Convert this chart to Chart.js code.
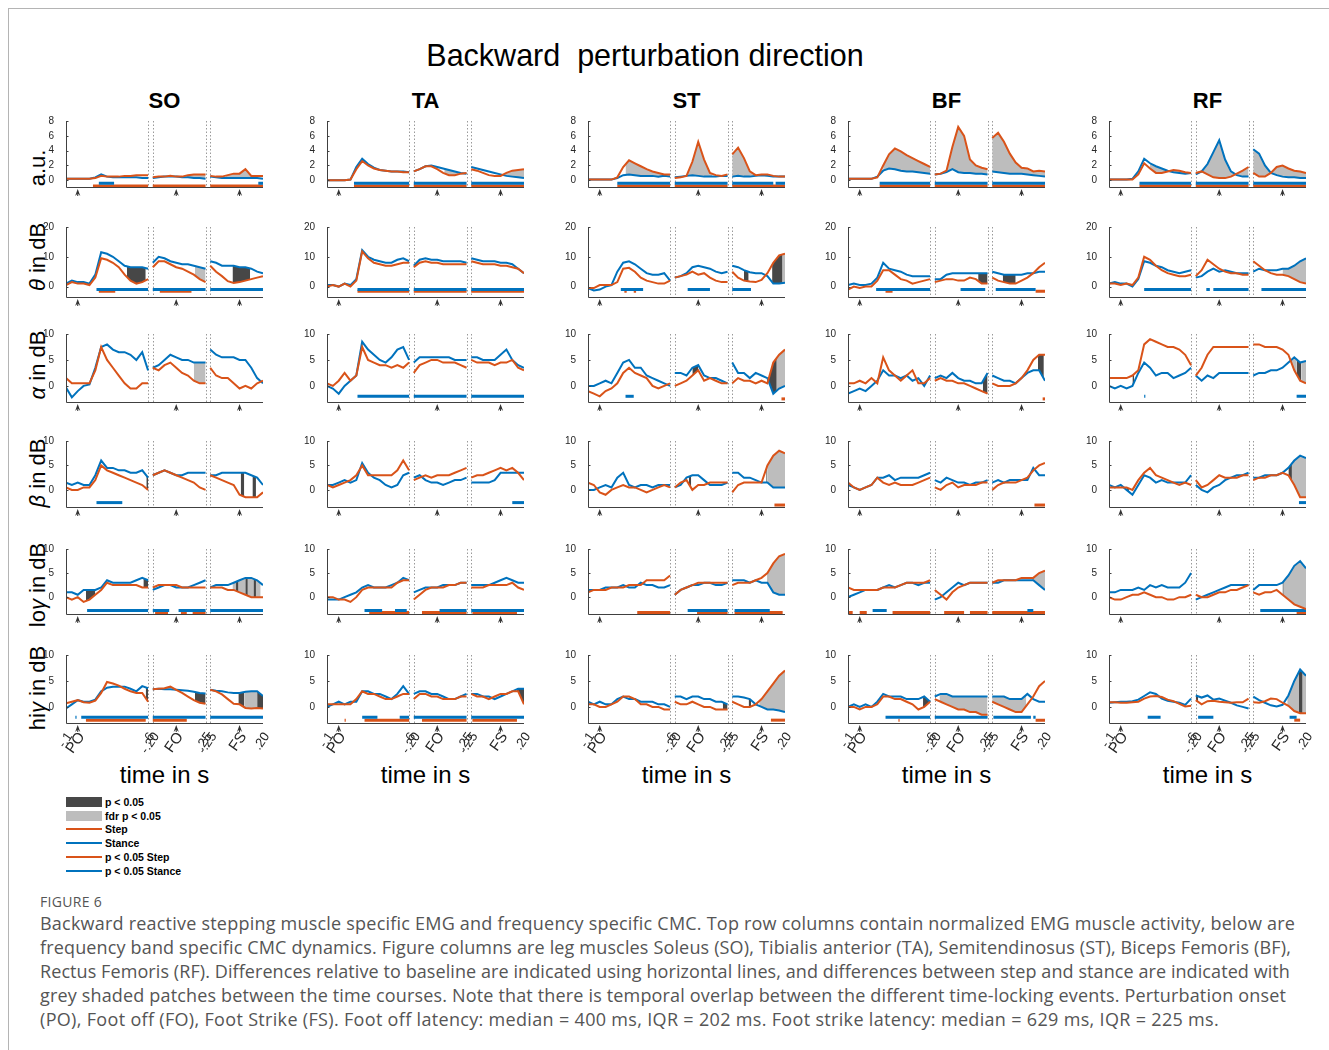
<!DOCTYPE html>
<html>
<head>
<meta charset="utf-8">
<script src="https://cdn.jsdelivr.net/npm/chart.js@4.4.1/dist/chart.umd.min.js"></script>
<style>
  body { margin: 0; background: #fff; width: 1329px; height: 1050px; overflow: hidden; position: relative;
         font-family: 'Liberation Sans', Arial, sans-serif; color: #000; }
  .abs { position: absolute; }
  .center { transform: translate(-50%, -50%); white-space: nowrap; line-height: 1; }
  .ylab { transform: translate(-50%, -50%) rotate(-90deg); white-space: nowrap; line-height: 1; font-size: 22px; }
  .legend-row { position: absolute; left: 0; height: 14px; width: 200px; }
  .legend-row span { position: absolute; left: 39px; top: 0; font-size: 10.5px; font-weight: bold; line-height: 12px; }
  .caption { font-family: 'Open Sans', sans-serif; color: #555; }
  .caption div { white-space: nowrap; }
</style>
</head>
<body>
<div class="abs" style="left:8px;top:8px;width:1321px;height:1px;background:#b4b4b4"></div>
<div class="abs" style="left:8px;top:8px;width:1px;height:1042px;background:#b4b4b4"></div>
<div id="overlay"></div>

<script>
// ---- sampling of the three time-locked segments (PO, FO, FS), 0.05 s step ----
const SEG_T0 = [-0.1, -0.2, -0.25];
const SEG_N = [15, 10, 10];
const SEG_X0 = [0, 0.74, 1.23];   // start of each segment on the shared x axis
const STEP_T = 0.05;
const X_MAX = 1.68;

const MUSCLES = ['SO', 'TA', 'ST', 'BF', 'RF'];
const ROW_LABELS = ['a.u.', '<i>θ</i> in dB', '<i>α</i> in dB', '<i>β</i> in dB', 'lo<i>γ</i> in dB', 'hi<i>γ</i> in dB'];
const ROW_TICKS = [[0, 2, 4, 6, 8], [0, 10, 20], [0, 5, 10], [0, 5, 10], [0, 5, 10], [0, 5, 10]];
const ROW_MIN = [-0.9, -3.5, -3.1, -3.5, -3.5, -3.1];
const ROW_MAX = [8, 20, 10, 10, 10, 10];
const EVENT_X = [0.1, 0.94, 1.48];
const X_TICKS = [0, 0.1, 0.7, 0.74, 0.94, 1.19, 1.23, 1.48, 1.68];
const X_TICK_LABELS = ['-.1', 'PO', '.6', '-.20', 'FO', '.25', '-.25', 'FS', '.20'];
const LEGEND_LABELS = ['p < 0.05', 'fdr p < 0.05', 'Step', 'Stance', 'p < 0.05 Step', 'p < 0.05 Stance'];

// ---- EMG (a.u.) ----
const SO_EMG_STEP   = [[0.2,0.2,0.2,0.2,0.2,0.3,0.6,0.5,0.5,0.5,0.6,0.6,0.7,0.7,0.7],[0.4,0.5,0.5,0.6,0.5,0.5,0.7,0.8,0.8,0.8],[0.6,0.5,0.5,0.7,0.9,0.9,1.5,0.6,0.6,0.6]];
const SO_EMG_STANCE = [[0.2,0.2,0.2,0.2,0.2,0.4,0.8,0.5,0.4,0.4,0.4,0.4,0.4,0.3,0.3],[0.3,0.4,0.5,0.5,0.5,0.4,0.4,0.3,0.3,0.2],[0.5,0.4,0.3,0.3,0.3,0.3,0.3,0.3,0.3,0.2]];
const TA_EMG_STEP   = [[0,0,0,0,0.1,1.5,2.6,2.0,1.6,1.4,1.3,1.2,1.2,1.1,1.1],[1.2,1.5,1.9,1.9,1.5,1.0,0.7,0.7,0.9,1.0],[1.5,1.3,1.0,0.7,0.6,0.6,1.0,1.3,1.4,1.5]];
const TA_EMG_STANCE = [[0,0,0,0,0.1,1.8,2.9,2.2,1.7,1.4,1.3,1.2,1.2,1.2,1.1],[1.2,1.5,1.9,2.0,1.8,1.6,1.4,1.2,1.0,0.9],[1.8,1.6,1.4,1.2,1.0,0.8,0.6,0.5,0.4,0.3]];
const ST_EMG_STEP   = [[0.1,0.1,0.1,0.1,0.1,0.4,1.8,2.7,2.3,1.9,1.5,1.2,1.0,0.8,0.8],[0.3,0.4,0.6,2.5,5.2,2.8,1.0,0.7,0.6,0.8],[3.5,4.4,3.0,1.2,0.7,0.8,0.8,0.6,0.5,0.5]];
const ST_EMG_STANCE = [[0.1,0.1,0.1,0.1,0.1,0.3,0.7,0.8,0.7,0.6,0.6,0.6,0.5,0.6,0.5],[0.4,0.5,0.6,0.7,0.6,0.5,0.5,0.5,0.6,0.6],[0.5,0.6,0.5,0.5,0.6,0.7,0.6,0.5,0.5,0.5]];
const BF_EMG_STEP   = [[0.2,0.2,0.2,0.2,0.2,0.4,2.0,3.5,4.3,3.9,3.4,3.0,2.6,2.2,1.8],[0.8,0.9,1.3,4.5,7.2,6.0,2.8,2.0,1.7,1.5],[5.7,6.4,5.2,3.6,2.4,1.7,1.6,1.2,1.3,1.2]];
const BF_EMG_STANCE = [[0.2,0.2,0.2,0.2,0.2,0.5,1.3,1.6,1.5,1.3,1.2,1.2,1.1,1.0,0.9],[0.8,0.9,1.1,1.5,1.1,1.0,1.0,0.9,0.9,0.8],[1.2,1.1,1.0,0.9,0.9,0.9,0.8,0.7,0.6,0.5]];
const RF_EMG_STEP   = [[0.1,0.1,0.1,0.1,0.1,0.8,2.3,1.6,1.0,1.0,1.2,1.4,1.3,1.1,1.0],[1.0,1.2,0.8,0.4,0.3,0.3,0.5,0.9,1.3,1.8],[1.0,0.5,0.5,1.0,1.8,2.0,1.6,1.3,1.2,1.0]];
const RF_EMG_STANCE = [[0.1,0.1,0.1,0.1,0.2,1.2,2.9,2.3,1.9,1.6,1.3,1.1,1.0,0.9,1.0],[0.8,1.2,2.2,3.8,5.4,2.8,1.2,0.7,0.5,0.5],[4.2,3.6,2.0,1.0,0.7,0.5,0.4,0.4,0.3,0.3]];

// ---- theta (dB) ----
const SO_THETA_STEP   = [[0.5,1.5,1,1,0.5,3,9.5,9,8,6.5,4,2,1,1.5,2.5],[6.5,8.5,8.5,7.5,6.5,6,5,4,2.5,1.5],[7,5,3.5,1.8,1.2,1.5,2,2.5,3,3.5]];
const SO_THETA_STANCE = [[1,2,1.5,1.5,1,4,11.5,11,10,8.5,7,6.5,6.5,6.5,6],[8,10,9.5,8.5,8,7.5,7.5,7,6.5,6],[8.5,8,7,7,7,6.5,6.5,6,5,4.5]];
const TA_THETA_STEP   = [[0,0.5,0,1,0,2,11.8,9.5,8,7.5,7,7,7.5,8,8],[6.5,8,8.5,8,8,7.5,7.5,7.5,7.5,7.5],[8.5,8,7.5,7.5,7.5,7,7,6.5,6,4.5]];
const TA_THETA_STANCE = [[0.5,0.5,0,1,0.5,2.5,12.2,10,9,8.5,8,8,9,9.5,8.5],[7,9,9.5,9,9,8.5,8.5,8.5,8.5,8],[9.5,9,8.5,8.5,8.5,8,8,7.5,6,4.5]];
const ST_THETA_STEP   = [[-0.5,-0.5,0.5,0.5,0.5,1.5,6,6.3,5,3,2,1.5,1,1,2],[3,3.5,4,5,4,4.5,3,2,1.5,1.5],[5,3,2,1.7,1.5,2.2,4.5,8,10.5,11]];
const ST_THETA_STANCE = [[-0.5,-1.3,-1,0,0.5,5,8,8.5,7.5,6,4.5,4,4,4.5,2],[3,3.5,4.5,6.5,7,6.5,6,5,4.5,5],[7,6.5,5.5,4.8,4.5,4.5,3.5,1,1,1.3]];
const BF_THETA_STEP   = [[-1,0,-0.5,0,0,2,5.5,5.5,4,2.5,2,1,1.5,2,2.5],[1.5,2,2.5,2.5,2,2,3,2.5,1,1],[3,2,1.5,1,1,2,3,4.5,6.5,8]];
const BF_THETA_STANCE = [[0.5,1,0.5,0.5,1,3,8,6,5.5,5,4,3.5,3.5,3.5,3.5],[2.5,2.5,4,4.5,4.5,4.5,4.5,4.5,4.5,4.5],[5,4.5,4,4,4,4,4.5,4.5,5,5]];
const RF_THETA_STEP   = [[1,1,0.5,1,0.5,3,10,9,7,5.5,4.5,4,3.5,3.5,4],[3.5,5.5,9,7.5,6,5,4.5,4.5,4,4],[8.5,7,5.5,4.5,4,4,3.5,2.5,1.5,1]];
const RF_THETA_STANCE = [[1,1.5,1,1,0,2.5,8.5,8,7,6.5,5.5,5,4.5,5,5.5],[3,3.5,5,6,5,5.5,5,4.5,4.5,4.5],[5,6,5.5,5.5,5.5,6,6,7,8.5,9.5]];

// ---- alpha (dB) ----
const SO_ALPHA_STEP   = [[1.5,0.5,0.5,0.5,0.5,3,7.5,5,3.5,2,0.5,-0.5,-0.5,0.5,0.5],[3.5,3,4,4.5,3.5,2.5,2,1,0.5,0.5],[3.5,2,1.5,1.5,0.5,-0.5,0,-0.5,0.5,1]];
const SO_ALPHA_STANCE = [[-0.3,-2.2,-1,0,0.3,3.5,7.5,8,7,6.5,6.5,6,5,6.5,3],[3.5,4,5,6,5.5,5,5,4.5,4.5,4.5],[7,6,5.5,5.5,5.5,5,5,3.5,1.5,0.5]];
const TA_ALPHA_STEP   = [[0.5,0,1,2.5,1,2,7.5,5,4.5,4,4,3.5,4,3.5,4.5],[2.5,4,4.5,5,5,4.5,4.5,4.5,4,3.5],[5,4.5,4.5,4.5,4,4.5,4.5,5,3.5,3]];
const TA_ALPHA_STANCE = [[0,-0.5,-1.5,0,1,2,8.5,7,6,5,4.5,5.5,7,7.5,5],[4.5,5.5,5.5,5.5,5.5,5.5,5.5,5,5,5],[5.5,5.5,5,5,5,6,7,5,4,3.5]];
const ST_ALPHA_STEP   = [[-1,-1.5,-2,-1,-0.5,0.5,2.5,3.5,2.5,2,1.5,0,-0.5,0,0.5],[0,0.5,1,2,3,1,1.5,1,0.5,0.5],[0.5,1.5,1,1,0.5,1,0.5,4.5,6,7]];
const ST_ALPHA_STANCE = [[0,0,0.5,1,0.5,2.5,4.5,5,3.5,3.5,2,1.5,1,0.5,0],[2.5,2.5,2,3.5,4,2,1.5,1.5,1,0.5],[4.5,2.5,2.5,1.5,2.5,2,1.5,-1.5,-0.5,0]];
const BF_ALPHA_STEP   = [[0.5,0.5,1,0.5,1.5,0.5,5.5,3,2,1,2,3,0.5,0.5,1.5],[1,1.5,1,1,0.5,0.5,0,-0.5,-1,-1.5],[0.5,0,0,0,0.5,1.5,3,5,6,6]];
const BF_ALPHA_STANCE = [[-1.5,-1,-0.5,-1,0,1,3,2,2,1.5,2,1,1.5,0,2],[1.5,2,1.5,2.5,1.5,1,1,0.5,0.5,2.5],[2,1.5,1,1,0.5,1.5,2.5,3,3,1]];
const RF_ALPHA_STEP   = [[1.5,1.5,1.5,1.5,2,3,8,9,8.5,8,7.5,7.5,7,6,4],[2,3.5,6,7.5,7.5,7.5,7.5,7.5,7.5,7.5],[8,8,7.5,7.5,7.5,7,6,3,1,0.5]];
const RF_ALPHA_STANCE = [[0,-0.5,0,-0.5,0,2.5,4.5,3.5,2,2.5,2.5,1.5,2,2.5,3.5],[2,1,2,1.5,2.5,2.5,2.5,2.5,2.5,2.5],[2,2.5,2.5,3,3,3.5,4.5,5.5,4.5,4.8]];

// ---- beta (dB) ----
const SO_BETA_STEP   = [[0.5,0,0,0.5,0.5,2,5,4,3.5,3,2.5,2,1.5,1,0],[3,3.5,4,3.5,3,2.5,2,1.5,0.5,0],[3,2.5,2,1.5,1,-1,-1.5,-1.5,-1.5,-0.5]];
const SO_BETA_STANCE = [[1.5,1,1.5,1,1,3,6,4.5,4.5,4,4,3.5,3.5,4,2.5],[3,3.5,4,3.5,3,3,3.5,3.5,3.5,3.5],[3,3,3.5,3.5,3.5,3.5,3.5,3,2.5,1]];
const TA_BETA_STEP   = [[1,0.5,1,1.5,2,3,5,3,3,3,3,3,4,6,4],[2,2.5,3,2.5,3,3,3,3.5,4,4.5],[2.5,3,3,3.5,4,4.5,4,4.5,3.5,2]];
const TA_BETA_STANCE = [[1,1,1.5,2,1.5,2,5.5,3.5,2.5,2,1,0.5,1,3,3.5],[2.5,3,2,1.5,1.5,1,1.5,2,2,2.5],[1.5,1.5,1.5,1.5,2,3.5,3.5,3.5,3.5,3.5]];
const ST_BETA_STEP   = [[1.5,1,-0.5,-1,0,0.5,1,0.5,0.5,0,-0.5,0,0.5,1,0.5],[0.5,1.5,2,0,1,1,1.5,1.5,1.5,1.5],[-0.5,1,1.5,1.5,1.5,1.5,5,7,8,7.5]];
const ST_BETA_STANCE = [[0,0,0.5,1,0.5,2.5,3.5,1,0.5,1,1,0.5,1,1,1],[0.5,1,2.5,3,3,2,1,1,1,1.5],[3.5,3.5,2.5,2.5,2,1.5,1.5,0.5,0.5,0.5]];
const BF_BETA_STEP   = [[1.5,0.5,0,0.5,1,2.5,1.5,1,1.5,1,1,1,1.5,2,2.5],[0.5,0,1,1.5,0.5,1,1,1,1.5,1.5],[0,1,1.5,1.5,1.5,2,2.5,4,5,5.5]];
const BF_BETA_STANCE = [[1,0.5,0,0.5,1,2.5,2.5,3,2,2.5,2.5,2.5,2.5,3,3.5],[2,1.5,2.5,2,1.5,1.5,1,1.5,1.5,2],[1.5,2,1.5,2,2,2,2,4.5,3,3]];
const RF_BETA_STEP   = [[0.5,0.5,0.5,0.5,0,2,3.5,4.5,3,2.5,2,1.5,1,1.5,1],[2,0.5,1,2,3,2.5,2.5,2.5,3,3],[2,2.5,2.5,3,3,3.5,3,1,-1.5,-1.5]];
const RF_BETA_STANCE = [[1,0.5,1,0,-1,1,3,2.5,1.5,2,1.5,1.5,1.5,1.5,3],[1,0,-0.5,0.5,1,2,2.5,3,3,3.5],[2.5,2.5,3,3,3,3.5,4.5,6,7,6.5]];

// ---- low gamma (dB) ----
const SO_LOG_STEP   = [[0,-0.5,0,-1,-0.5,0.5,1.5,3,2.5,2.5,2.5,2.5,2.5,2,2],[2,2.5,2.5,2.5,2.5,2,2,2,2,2],[2,2,2,1.5,1.5,1,0.5,0,0,0]];
const SO_LOG_STANCE = [[1,1,0.5,1.5,1.5,1.5,2,3.5,3,3,3,3,3.5,4,3.5],[1.5,2,2.5,2.5,2,2,2,2.5,3,3.5],[2,2.5,2.5,2.5,3,3.5,4,4,3.5,2.5]];
const TA_LOG_STEP   = [[0,0,-0.5,-0.5,-1,0,1.5,2,2,2,2,2,3,3.5,3.5],[-0.5,0.5,1.5,2,2,2,2.5,2.5,3,3],[2,2,2,2.5,2.5,2.5,2.5,3,2,1.5]];
const TA_LOG_STANCE = [[-0.5,-0.5,-0.5,0,0.5,1,2,2.5,2,2,2,2.5,3,4,3.5],[1,1.5,2,2,2,2.5,2.5,2.5,3,3],[2.5,2.5,2.5,2.5,3,3.5,4,3.5,3,3]];
const ST_LOG_STEP   = [[1,1.5,1.5,1.5,2,2,2,2.5,2.5,2.5,3.5,3.5,3.5,3.5,4.5],[0.5,1.5,2,2.5,3,3,3,3,3,3],[2.5,3,3,3,3.5,4,5,7,8.5,9]];
const ST_LOG_STANCE = [[1.5,1.5,1.5,2,2,2,2.5,2,2,3,2.5,2.5,2,2,2.5],[0.5,1.5,2,2.5,2.5,3,3,2.5,2.5,3],[3.5,3.5,3.5,3,3.5,3,3,1,0.5,0.5]];
const BF_LOG_STEP   = [[2,1.5,1.5,1.5,1.5,1.5,2,2,2,2.5,3,3,3,3,3.5],[1.5,0.5,-0.5,1,2,2.5,3,3,3,3],[3,3.5,3.5,3.5,3.5,4,4,4,5,5.5]];
const BF_LOG_STANCE = [[0,0.5,1,1.5,1.5,1.5,2,2.5,2,2.5,3,3,2.5,3,3],[-0.5,0,1,2,3,2.5,3,3,3,3],[3,3,3.5,3.5,3.5,3.5,3.5,3.5,2.5,1.5]];
const RF_LOG_STEP   = [[0,-0.5,-0.5,0,0.5,0.5,1,0.5,0,0,-0.5,-0.5,0,0,0.5],[0.5,0,0,0.5,1,1,1.5,1.5,2,2.5],[1,0.5,1,1,1.5,0.5,-0.5,-1.5,-2,-2.5]];
const RF_LOG_STANCE = [[1,1,1.5,1.5,1.5,2,1.5,2.5,2,2.5,2,2,2,3,5],[-0.5,0,0.5,1,1.5,2,2.5,2.5,2.5,2.5],[1.5,2.5,2.5,2.5,2.5,3,4.5,6.5,7.5,6]];

// ---- high gamma (dB) ----
const SO_HIG_STEP   = [[0.7,1,1.3,0.9,0.8,1.2,2.7,4.8,4.5,4.1,3.5,3,2.7,2.7,1],[3.4,3.5,3.6,3.9,3.3,2.7,2,1.3,0.8,0.6],[3.3,3,2.4,1.5,0.6,0.5,-0.2,-0.3,-0.2,-0.3]];
const SO_HIG_STANCE = [[-0.3,0.5,1.3,1,1,1.4,3,3.7,3.9,3.9,3.9,3.5,3,4,3.6],[3.4,3.5,3.4,3.4,3.3,3.2,3.1,2.9,2.7,2.6],[3.3,3.1,3,2.8,2.7,2.7,2.9,3,3,2.1]];
const TA_HIG_STEP   = [[0.5,0.5,0.5,0.5,0.5,1.5,3,2.5,2.5,2,1.5,1.5,2,2.5,2.5],[1.5,2.5,2.5,2,2,1.5,1.5,1.5,2,2],[2.5,2,2,1.5,2,2.5,2.5,3,3,0.5]];
const TA_HIG_STANCE = [[0,0.5,1,0.5,1,1,3,3,2.5,2.5,2,1.5,2.5,4,2.5],[2.5,3,3,2.5,2.5,2,1.5,1.5,2,2.5],[2.5,2.5,2,2,1.5,2,2.5,3,3.5,3.5]];
const ST_HIG_STEP   = [[0.5,0.5,0,0,0.5,1,2,2,1.5,0.5,0.5,0,0,-0.5,-0.5],[1,0.5,0.5,1,0.5,0,0,-0.5,-0.5,-0.5],[1,0.5,0,0,0.5,1.5,3,4.5,6,7]];
const ST_HIG_STANCE = [[1,0.5,1,0.5,0.5,1.5,2,1.5,1.5,1,1,1,0.5,0.5,0],[2,2,1.5,2,2,1.5,1.5,1,1,0.5],[2,2,1.8,1.5,0.5,0,-0.5,-0.5,-0.7,-1]];
const BF_HIG_STEP   = [[0,0,-0.5,0,0,0.5,2,2,1.5,1.5,1,0.5,-0.5,0,1],[1.5,1,0.5,0,-0.5,-0.5,-1,-1,-1.5,-1.5],[1,0.5,0,-0.5,-1,-1,0.5,2,4,5]];
const BF_HIG_STANCE = [[0,0.5,0,0.5,0,1,2.5,2,2,2,1.5,1.5,1.5,2,1],[2,2.5,2.5,2,2,2,2,2,2,2],[2,2,2,1.5,1.5,1.5,2.5,1.5,1,1]];
const RF_HIG_STEP   = [[0.9,0.9,0.8,0.8,0.9,1,1.6,2,2.1,1.9,1.4,1.1,0.6,0.1,0.2],[1.3,0.5,1.1,1.2,1,0.9,0.8,0.9,0.9,1.6],[0.9,0.8,1.1,1.6,1.5,0.8,0.2,-0.8,-1.2,-1.2]];
const RF_HIG_STANCE = [[0.8,0.9,1,1,1.1,1.4,2.1,2.8,2.5,1.6,1.2,1,0.8,0.4,1.6],[2.2,1.8,2.2,1.4,1.6,1.2,0.8,0.3,0,-0.3],[2,1.3,0.8,0.3,0.1,0.4,2.2,5,7.2,6]];

// ---- significance marks: D = p<0.05 patch, L = fdr patch, B = stance vs baseline, O = step vs baseline ----
const SO_EMG_MARKS = [['L',1.03,1.19],['L',1.36,1.60],['B',0.28,0.41],['B',1.64,1.68],['O',0.23,0.70],['O',0.74,1.19],['O',1.23,1.68]];
const TA_EMG_MARKS = [['L',1.00,1.12],['L',1.52,1.68],['B',0.23,0.70],['B',0.74,1.19],['B',1.23,1.68],['O',0.23,0.70],['O',0.74,1.19],['O',1.23,1.68]];
const ST_EMG_MARKS = [['L',0.32,0.70],['L',0.82,1.06],['L',1.23,1.46],['B',0.25,0.70],['B',0.74,1.19],['B',1.23,1.58],['B',1.60,1.68],['O',0.25,0.70],['O',0.74,1.19],['O',1.23,1.68]];
const BF_EMG_MARKS = [['L',0.30,0.70],['L',0.77,1.19],['L',1.23,1.68],['B',0.27,0.70],['B',0.74,1.19],['B',1.23,1.68],['O',0.27,0.70],['O',0.74,1.19],['O',1.23,1.68]];
const RF_EMG_MARKS = [['L',0.35,0.70],['L',0.80,1.19],['L',1.23,1.68],['B',0.26,0.70],['B',0.74,1.19],['B',1.23,1.68],['O',0.26,0.70],['O',0.74,1.19],['O',1.23,1.68]];

const SO_THETA_MARKS = [['D',0.52,0.68],['L',1.10,1.19],['D',1.42,1.57],['B',0.26,0.70],['B',0.74,1.19],['B',1.23,1.68],['O',0.28,0.42],['O',0.80,1.07]];
const TA_THETA_MARKS = [['B',0.26,0.70],['B',0.74,1.19],['B',1.23,1.68],['O',0.26,0.70],['O',0.74,1.19],['O',1.23,1.68]];
const ST_THETA_MARKS = [['D',1.33,1.37],['D',1.57,1.66],['L',1.66,1.68],['B',0.28,0.47],['B',0.85,1.04],['B',1.23,1.39],['O',0.31,0.33],['O',0.39,0.41]];
const BF_THETA_MARKS = [['D',1.11,1.19],['D',1.32,1.43],['B',0.24,0.70],['B',0.96,1.17],['B',1.26,1.60],['O',0.32,0.38],['O',1.60,1.68]];
const RF_THETA_MARKS = [['L',1.48,1.68],['B',0.30,0.70],['B',0.83,0.86],['B',0.89,1.19],['B',1.30,1.68]];

const SO_ALPHA_MARKS = [['L',1.09,1.19]];
const TA_ALPHA_MARKS = [['B',0.26,0.70],['B',0.74,1.19],['B',1.23,1.68]];
const ST_ALPHA_MARKS = [['D',0.89,0.94],['D',1.53,1.61],['L',1.61,1.68],['B',0.32,0.39],['O',1.65,1.68]];
const BF_ALPHA_MARKS = [['D',1.15,1.19],['D',1.62,1.67],['O',1.66,1.68]];
const RF_ALPHA_MARKS = [['D',0.20,0.215],['L',1.55,1.60],['D',1.60,1.64],['L',1.64,1.68],['B',0.30,0.31],['B',1.60,1.68]];

const SO_BETA_MARKS = [['D',0.685,0.70],['D',1.49,1.52],['D',1.59,1.62],['B',0.26,0.48]];
const TA_BETA_MARKS = [['B',1.58,1.68]];
const ST_BETA_MARKS = [['D',0.86,0.88],['D',1.52,1.53],['L',1.53,1.68],['O',1.59,1.68]];
const BF_BETA_MARKS = [['O',1.59,1.68]];
const RF_BETA_MARKS = [['D',0.15,0.17],['D',1.53,1.56],['L',1.56,1.68],['B',1.62,1.68]];

const SO_LOG_MARKS = [['D',0.17,0.25],['D',0.66,0.70],['D',1.45,1.47],['D',1.53,1.55],['D',1.60,1.62],['L',1.42,1.66],['B',0.18,0.70],['B',0.74,0.88],['B',0.96,1.19],['B',1.23,1.68],['O',0.76,0.87],['O',0.98,1.03],['O',1.08,1.19]];
const TA_LOG_MARKS = [['B',0.32,0.47],['B',0.58,0.68],['B',0.96,1.19],['B',1.23,1.68],['O',0.36,0.70],['O',0.81,1.19],['O',1.24,1.62]];
const ST_LOG_MARKS = [['D',1.53,1.54],['L',1.54,1.68],['B',0.85,1.19],['B',1.25,1.55],['O',0.42,0.70],['O',0.93,1.19],['O',1.25,1.66]];
const BF_LOG_MARKS = [['L',1.57,1.68],['B',0.21,0.33],['B',1.53,1.58],['O',0.00,0.04],['O',0.10,0.16],['O',0.38,0.70],['O',0.82,0.99],['O',1.04,1.19],['O',1.23,1.68]];
const RF_LOG_MARKS = [['D',1.48,1.49],['L',1.49,1.68],['B',1.29,1.68],['O',1.60,1.68]];

const SO_HIG_MARKS = [['D',0.68,0.70],['D',1.10,1.19],['D',1.47,1.52],['L',1.52,1.63],['D',1.63,1.68],['B',0.08,0.09],['B',0.13,0.70],['B',0.74,1.19],['B',1.23,1.68],['O',0.17,0.68],['O',0.74,1.03]];
const TA_HIG_MARKS = [['D',1.62,1.68],['B',0.30,0.43],['B',0.62,0.70],['B',0.74,1.19],['B',1.23,1.68],['O',0.15,0.16],['O',0.32,0.70],['O',0.81,1.19],['O',1.24,1.62]];
const ST_HIG_MARKS = [['D',1.15,1.19],['D',1.37,1.39],['L',1.46,1.68],['O',1.56,1.68]];
const BF_HIG_MARKS = [['D',0.64,0.69],['L',0.78,1.19],['L',1.23,1.52],['B',0.32,0.70],['B',0.74,1.19],['B',1.24,1.56],['B',1.58,1.60],['O',0.43,0.44],['O',1.60,1.68]];
const RF_HIG_MARKS = [['D',0.74,0.76],['L',1.52,1.68],['D',1.62,1.65],['B',0.33,0.44],['B',0.76,0.89],['B',1.54,1.60],['O',1.58,1.63]];

// panel table, row by row (EMG, theta, alpha, beta, low gamma, high gamma)
const PANELS = [
  [SO_EMG_STEP, SO_EMG_STANCE, SO_EMG_MARKS], [TA_EMG_STEP, TA_EMG_STANCE, TA_EMG_MARKS], [ST_EMG_STEP, ST_EMG_STANCE, ST_EMG_MARKS], [BF_EMG_STEP, BF_EMG_STANCE, BF_EMG_MARKS], [RF_EMG_STEP, RF_EMG_STANCE, RF_EMG_MARKS],
  [SO_THETA_STEP, SO_THETA_STANCE, SO_THETA_MARKS], [TA_THETA_STEP, TA_THETA_STANCE, TA_THETA_MARKS], [ST_THETA_STEP, ST_THETA_STANCE, ST_THETA_MARKS], [BF_THETA_STEP, BF_THETA_STANCE, BF_THETA_MARKS], [RF_THETA_STEP, RF_THETA_STANCE, RF_THETA_MARKS],
  [SO_ALPHA_STEP, SO_ALPHA_STANCE, SO_ALPHA_MARKS], [TA_ALPHA_STEP, TA_ALPHA_STANCE, TA_ALPHA_MARKS], [ST_ALPHA_STEP, ST_ALPHA_STANCE, ST_ALPHA_MARKS], [BF_ALPHA_STEP, BF_ALPHA_STANCE, BF_ALPHA_MARKS], [RF_ALPHA_STEP, RF_ALPHA_STANCE, RF_ALPHA_MARKS],
  [SO_BETA_STEP, SO_BETA_STANCE, SO_BETA_MARKS], [TA_BETA_STEP, TA_BETA_STANCE, TA_BETA_MARKS], [ST_BETA_STEP, ST_BETA_STANCE, ST_BETA_MARKS], [BF_BETA_STEP, BF_BETA_STANCE, BF_BETA_MARKS], [RF_BETA_STEP, RF_BETA_STANCE, RF_BETA_MARKS],
  [SO_LOG_STEP, SO_LOG_STANCE, SO_LOG_MARKS], [TA_LOG_STEP, TA_LOG_STANCE, TA_LOG_MARKS], [ST_LOG_STEP, ST_LOG_STANCE, ST_LOG_MARKS], [BF_LOG_STEP, BF_LOG_STANCE, BF_LOG_MARKS], [RF_LOG_STEP, RF_LOG_STANCE, RF_LOG_MARKS],
  [SO_HIG_STEP, SO_HIG_STANCE, SO_HIG_MARKS], [TA_HIG_STEP, TA_HIG_STANCE, TA_HIG_MARKS], [ST_HIG_STEP, ST_HIG_STANCE, ST_HIG_MARKS], [BF_HIG_STEP, BF_HIG_STANCE, BF_HIG_MARKS], [RF_HIG_STEP, RF_HIG_STANCE, RF_HIG_MARKS]
];

// ---- layout (page pixels) ----
const COL_LEFT = [66, 327, 588, 848, 1109];
const AXIS_W = 197;
const ROW_TOP = [117, 223, 330, 437, 545, 651];
const ROW_BOTTOM = [187, 297, 402, 507, 614, 723];
const ROW_LABEL_Y = [168, 257, 365, 473, 585, 688];
const BAR_LEVEL = [[-0.38, -0.75], [-1.0, -1.6], [-2.0, -2.5], [-2.6, -3.1], [-2.75, -3.2], [-2.0, -2.55]];
const PAD_LEFT = 30, PAD_TOP = 6, PAD_RIGHT = 8;
const CAPTION_RIGHT = [1295, 1291, 1290, 1286, 1219];

const STEP_COLOR = '#D95319';
const STANCE_COLOR = '#0072BD';
const DARK_SHADE = '#474747';
const LIGHT_SHADE = '#bdbdbd';
const EPS = 1e-6;

const segEnd = s => SEG_X0[s] + (SEG_N[s] - 1) * STEP_T;
const segOf = x => [0, 1, 2].find(s => x >= SEG_X0[s] - EPS && x <= segEnd(s) + EPS);

function seriesPoints(series) {
  const pts = [];
  series.forEach((seg, s) => {
    seg.forEach((v, k) => pts.push({ x: SEG_X0[s] + k * STEP_T, y: v }));
    if (s < series.length - 1) pts.push({ x: segEnd(s) + 0.02, y: null });
  });
  return pts;
}

function valueAt(series, x) {
  const s = segOf(x);
  const f = (x - SEG_X0[s]) / STEP_T;
  const i = Math.max(0, Math.min(Math.floor(f + EPS), SEG_N[s] - 2));
  const w = f - i;
  return series[s][i] * (1 - w) + series[s][i + 1] * w;
}

function shadePoints(series, x0, x1) {
  const s = segOf(x0);
  const pts = [{ x: x0, y: valueAt(series, x0) }];
  for (let k = 0; k < SEG_N[s]; k++) {
    const gx = SEG_X0[s] + k * STEP_T;
    if (gx > x0 + EPS && gx < x1 - EPS) pts.push({ x: gx, y: series[s][k] });
  }
  pts.push({ x: x1, y: valueAt(series, x1) });
  return pts;
}

function barPoints(marks, type, level) {
  const pts = [];
  marks.filter(m => m[0] === type).forEach(([, a, b]) => {
    pts.push({ x: a, y: level }, { x: Math.max(b, a + 0.008), y: level }, { x: b + 0.002, y: null });
  });
  return pts;
}

const matlabAxes = {
  id: 'matlabAxes',
  beforeDatasetsDraw(chart) {
    const { ctx, chartArea: a, scales: { x } } = chart;
    ctx.save();
    ctx.strokeStyle = '#9a9a9a';
    ctx.lineWidth = 1;
    ctx.setLineDash([1.5, 2]);
    [0.7, 0.74, 1.19, 1.23].forEach(v => {
      const px = Math.round(x.getPixelForValue(v)) + 0.5;
      ctx.beginPath(); ctx.moveTo(px, a.top); ctx.lineTo(px, a.bottom); ctx.stroke();
    });
    ctx.restore();
  },
  afterDraw(chart, args, opts) {
    const { ctx, chartArea: a, scales: { x, y } } = chart;
    ctx.save();
    ctx.strokeStyle = '#404040';
    ctx.lineWidth = 1;
    ctx.beginPath();
    ctx.moveTo(a.left + 0.5, a.top); ctx.lineTo(a.left + 0.5, a.bottom + 0.5);
    ctx.lineTo(a.right, a.bottom + 0.5);
    ROW_TICKS[opts.row].forEach(v => {
      const py = Math.round(y.getPixelForValue(v)) + 0.5;
      ctx.moveTo(a.left, py); ctx.lineTo(a.left + 2.5, py);
    });
    ctx.stroke();
    // event arrows under the axis
    ctx.fillStyle = '#333';
    const b = a.bottom + 1;
    EVENT_X.forEach(v => {
      const px = x.getPixelForValue(v);
      ctx.beginPath();
      ctx.moveTo(px, b + 1); ctx.lineTo(px + 2.6, b + 8); ctx.lineTo(px, b + 5.5); ctx.lineTo(px - 2.6, b + 8);
      ctx.closePath(); ctx.fill();
      ctx.fillRect(px - 0.5, b + 4, 1, 4);
    });
    if (opts.last) {
      ctx.fillStyle = '#262626';
      ctx.textAlign = 'right';
      ctx.textBaseline = 'middle';
      X_TICKS.forEach((v, i) => {
        const px = x.getPixelForValue(v);
        const big = /[A-Z]/.test(X_TICK_LABELS[i]);
        ctx.font = (big ? 15 : 13) + 'px "Liberation Sans", Arial, sans-serif';
        ctx.save();
        ctx.translate(px + 4, b + 10);
        ctx.rotate(-55 * Math.PI / 180);
        ctx.fillText(X_TICK_LABELS[i], 0, 0);
        ctx.restore();
      });
    }
    ctx.restore();
  }
};

const overlay = document.getElementById('overlay');
function addText(html, left, top, css) {
  const d = document.createElement('div');
  d.className = 'abs ' + (css.cls || 'center');
  d.style.left = left + 'px';
  d.style.top = top + 'px';
  Object.assign(d.style, css.style || {});
  d.innerHTML = html;
  overlay.appendChild(d);
  return d;
}

addText('Backward&nbsp; perturbation direction', 645, 55, { style: { fontSize: '30.5px' } });
MUSCLES.forEach((m, c) => {
  addText(m, COL_LEFT[c] + AXIS_W / 2, 101, { style: { fontSize: '22px', fontWeight: 'bold' } });
  addText('time in s', COL_LEFT[c] + AXIS_W / 2, 775, { style: { fontSize: '24px' } });
});
ROW_LABELS.forEach((l, r) => addText(l, 38, ROW_LABEL_Y[r], { cls: 'ylab' }));

PANELS.forEach(([step, stance, marks], idx) => {
  const r = Math.floor(idx / 5), c = idx % 5;
  const last = r === 5;
  const padBottom = last ? 46 : 14;
  const h = ROW_BOTTOM[r] - ROW_TOP[r];
  const canvas = document.createElement('canvas');
  canvas.width = PAD_LEFT + AXIS_W + PAD_RIGHT;
  canvas.height = PAD_TOP + h + padBottom;
  canvas.style.position = 'absolute';
  canvas.style.left = (COL_LEFT[c] - PAD_LEFT) + 'px';
  canvas.style.top = (ROW_TOP[r] - PAD_TOP) + 'px';
  document.body.appendChild(canvas);

  const lineStyle = { pointRadius: 0, borderWidth: 2, fill: false, tension: 0 };
  const datasets = [
    { data: seriesPoints(step), borderColor: STEP_COLOR, ...lineStyle },
    { data: seriesPoints(stance), borderColor: STANCE_COLOR, ...lineStyle },
    { data: barPoints(marks, 'B', BAR_LEVEL[r][0]), borderColor: STANCE_COLOR, borderWidth: 3, borderCapStyle: 'butt', pointRadius: 0, fill: false },
    { data: barPoints(marks, 'O', BAR_LEVEL[r][1]), borderColor: STEP_COLOR, borderWidth: 3, borderCapStyle: 'butt', pointRadius: 0, fill: false }
  ];
  ['D', 'L'].forEach(type => {
    marks.filter(m => m[0] === type).forEach(([, a, b]) => {
      const color = type === 'D' ? DARK_SHADE : LIGHT_SHADE;
      datasets.push({ data: shadePoints(step, a, b), borderColor: 'rgba(0,0,0,0)', backgroundColor: color, fill: '+1', pointRadius: 0, borderWidth: 1 });
      datasets.push({ data: shadePoints(stance, a, b), borderColor: 'rgba(0,0,0,0)', fill: false, pointRadius: 0, borderWidth: 1 });
    });
  });

  new Chart(canvas, {
    type: 'line',
    data: { datasets },
    options: {
      responsive: false,
      animation: false,
      events: [],
      layout: { padding: { left: 0, top: PAD_TOP, right: PAD_RIGHT, bottom: padBottom } },
      plugins: { legend: { display: false }, tooltip: { enabled: false }, matlabAxes: { row: r, last } },
      scales: {
        x: { type: 'linear', min: 0, max: X_MAX, display: false },
        y: {
          min: ROW_MIN[r], max: ROW_MAX[r],
          grid: { display: false }, border: { display: false },
          afterBuildTicks: s => { s.ticks = ROW_TICKS[r].map(v => ({ value: v })); },
          afterFit: s => { s.width = PAD_LEFT; },
          ticks: { font: { family: 'Liberation Sans', size: 10 }, color: '#262626', padding: 4 }
        }
      }
    },
    plugins: [matlabAxes]
  });
});

// legend
const legend = document.createElement('div');
legend.className = 'abs';
legend.style.left = '66px';
legend.style.top = '796px';
document.body.appendChild(legend);
const LEGEND_SWATCH = [
  { bg: DARK_SHADE, h: 10 }, { bg: LIGHT_SHADE, h: 10 },
  { bg: STEP_COLOR, h: 2 }, { bg: STANCE_COLOR, h: 2 },
  { bg: STEP_COLOR, h: 2 }, { bg: STANCE_COLOR, h: 2 }
];
LEGEND_LABELS.forEach((t, i) => {
  const row = document.createElement('div');
  row.className = 'legend-row';
  row.style.top = (i * 13.7) + 'px';
  const sw = LEGEND_SWATCH[i];
  row.innerHTML = `<div style="position:absolute;left:0;width:36px;top:${6 - sw.h / 2}px;height:${sw.h}px;background:${sw.bg}"></div><span>${t}</span>`;
  legend.appendChild(row);
});

// caption
const CAPTION = [
  'Backward reactive stepping muscle specific EMG and frequency specific CMC. Top row columns contain normalized EMG muscle activity, below are',
  'frequency band specific CMC dynamics. Figure columns are leg muscles Soleus (SO), Tibialis anterior (TA), Semitendinosus (ST), Biceps Femoris (BF),',
  'Rectus Femoris (RF). Differences relative to baseline are indicated using horizontal lines, and differences between step and stance are indicated with',
  'grey shaded patches between the time courses. Note that there is temporal overlap between the different time-locking events. Perturbation onset',
  '(PO), Foot off (FO), Foot Strike (FS). Foot off latency: median = 400 ms, IQR = 202 ms. Foot strike latency: median = 629 ms, IQR = 225 ms.'
];
const fig = document.createElement('div');
fig.className = 'abs caption';
fig.style.cssText += 'left:40px;top:892px;font-size:14px;letter-spacing:0.3px;';
fig.textContent = 'FIGURE 6';
document.body.appendChild(fig);
const cap = document.createElement('div');
cap.className = 'abs caption';
cap.style.cssText += 'left:40px;top:911px;font-size:18px;line-height:24px;';
document.body.appendChild(cap);
CAPTION.forEach((t, i) => {
  const d = document.createElement('div');
  d.textContent = t;
  d.style.display = 'inline-block';
  cap.appendChild(d);
  cap.appendChild(document.createElement('br'));
  // small per-line tracking so each printed line ends where it does in the figure
  const w = d.getBoundingClientRect().width;
  d.style.letterSpacing = ((CAPTION_RIGHT[i] - 40 - w) / t.length).toFixed(3) + 'px';
});
</script>
</body>
</html>
